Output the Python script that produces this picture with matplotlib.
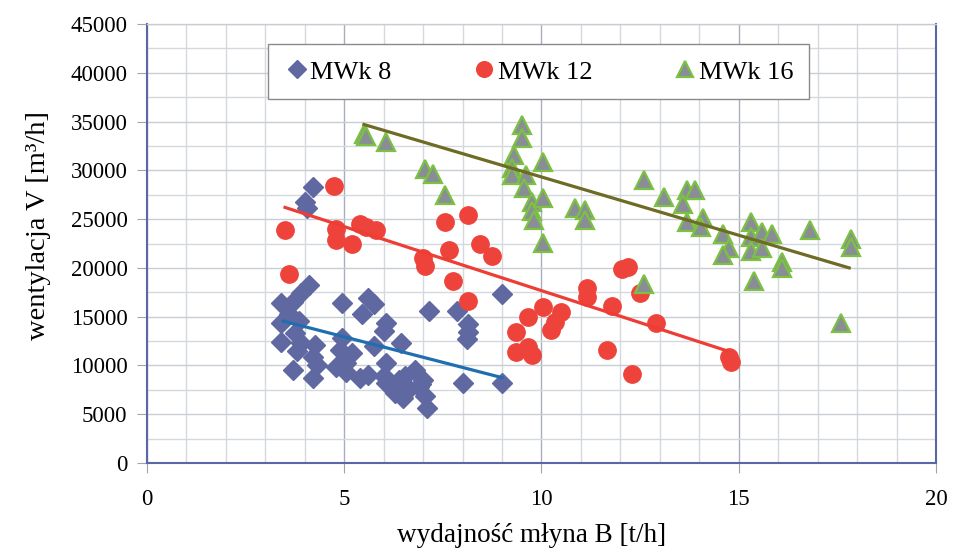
import numpy as np
import matplotlib
matplotlib.use("Agg")
import matplotlib.pyplot as plt
from matplotlib.ticker import MultipleLocator

plt.rcParams['font.family'] = ['Liberation Serif', 'DejaVu Serif']

# MWk 8 measurements: mill output [t/h], ventilation [m3/h]
mwk8_x = [4.2, 4.0, 4.05, 4.1, 3.9, 3.4, 3.7, 3.4, 3.85, 3.75, 3.4, 3.9, 4.25, 4.2, 3.7,
          4.2, 4.3, 3.6, 3.8, 4.95, 5.6, 5.75, 5.45, 6.05, 6.0, 4.95, 4.9, 5.05, 5.05, 5.4,
          5.75, 5.6, 6.45, 6.05, 6.05, 6.0, 6.4, 6.55, 6.65, 6.5, 6.3, 6.8, 7.0, 6.95, 7.05,
          7.1, 6.9, 6.2, 7.15, 7.85, 8.15, 8.15, 8.1, 9.0, 9.0, 8.0, 5.2, 4.8]
mwk8_y = [28300, 26800, 26100, 18200, 17400, 16400, 16500, 14300, 14600, 13300, 12400, 12300, 12100, 10900, 9500,
          8700, 10000, 15300, 11500, 16400, 16900, 16300, 15300, 14300, 13500, 12800, 11600, 10200, 9300, 8700,
          12000, 9000, 12300, 10200, 8200, 8900, 8500, 8900, 7600, 6700, 7200, 9500, 8500, 8100, 6900,
          5600, 7800, 8000, 15600, 15600, 14200, 13400, 12700, 17300, 8200, 8200, 11300, 9800]

# MWk 12 measurements
mwk12_x = [3.5, 3.6, 4.75, 4.8, 4.8, 5.2, 5.4, 5.55, 5.8, 7.0, 7.05, 7.55, 7.65, 7.75, 8.15,
           8.45, 8.75, 8.15, 9.35, 9.35, 9.65, 9.75, 9.65, 10.05, 10.25, 10.35, 10.5, 11.15, 11.15,
           11.65, 11.8, 12.05, 12.2, 12.5, 12.3, 12.9, 14.75, 14.8]
mwk12_y = [23900, 19400, 28400, 24000, 22900, 22400, 24500, 24200, 23900, 21000, 20200, 24700, 21800, 18700, 25400,
           22500, 21200, 16600, 13400, 11400, 11900, 11100, 15000, 16000, 13600, 14500, 15500, 17900, 17000,
           11600, 16100, 19900, 20100, 17400, 9100, 14300, 10900, 10400]

# MWk 16 measurements
mwk16_x = [5.5, 5.55, 6.05, 7.05, 7.25, 7.55, 9.5, 9.5, 9.3, 9.25, 9.25, 9.6, 9.55, 10.05, 9.75,
           9.75, 9.8, 10.05, 10.05, 10.85, 11.1, 11.1, 12.6, 12.6, 13.1, 13.7, 13.9, 13.6, 13.7, 14.1,
           14.05, 14.6, 14.75, 14.6, 15.3, 15.3, 15.3, 15.6, 15.6, 15.85, 16.1, 16.1, 15.4, 16.8, 17.85,
           17.85, 17.6]
mwk16_y = [33700, 33500, 32900, 30100, 29600, 27500, 34600, 33300, 31600, 30200, 29500, 29500, 28200, 30900, 26800,
           25800, 24900, 27200, 22600, 26100, 25900, 24900, 29000, 18300, 27300, 28000, 28000, 26600, 24700, 25100,
           24200, 23500, 22000, 21300, 24700, 23200, 21700, 23700, 22000, 23500, 20600, 20000, 18700, 23900, 23000,
           22100, 14300]

# linear trends (endpoints)
trend8_x, trend8_y = [3.45, 9.0], [14550, 8750]
trend12_x, trend12_y = [3.5, 14.7], [26200, 11500]
trend16_x, trend16_y = [5.5, 17.8], [34700, 20000]

fig = plt.figure(figsize=(9.58, 5.56), dpi=100)
ax = fig.add_axes([0.1534, 0.1673, 0.8236, 0.7895])

ax.plot(mwk8_x, mwk8_y, ls='none', marker='D', ms=10, color='#5f68a0', mec='#5f68a0', label='MWk 8', zorder=3)
ax.plot(mwk12_x, mwk12_y, ls='none', marker='o', ms=12.5, color='#ee433b', mec='#ee433b', label='MWk 12', zorder=3)
ax.plot(mwk16_x, mwk16_y, ls='none', marker='^', ms=13.5, color='#898e96', mec='#7cc142', mew=1.6,
        label='MWk 16', zorder=3)

ax.plot(trend8_x, trend8_y, color='#1f6eb0', lw=2.3, zorder=4)
ax.plot(trend12_x, trend12_y, color='#ee3d35', lw=2.3, zorder=4)
ax.plot(trend16_x, trend16_y, color='#6e6b24', lw=2.3, zorder=4)

ax.set_xlim(0, 20)
ax.set_ylim(0, 45000)
ax.xaxis.set_major_locator(MultipleLocator(5))
ax.xaxis.set_minor_locator(MultipleLocator(1))
ax.yaxis.set_major_locator(MultipleLocator(5000))
ax.yaxis.set_minor_locator(MultipleLocator(2500))

ax.grid(which='minor', color='#d5d8dc', lw=1.0, zorder=0)
ax.grid(which='major', axis='y', color='#c9ccd2', lw=1.0, zorder=0)
ax.grid(which='major', axis='x', color='#a9aebb', lw=1.0, zorder=0)
ax.set_axisbelow(True)

for s in ['left', 'bottom', 'right', 'top']:
    ax.spines[s].set_color('#5a67a6')
    ax.spines[s].set_linewidth(1.5)
ax.spines['top'].set_color('#c9ccd2')
ax.spines['top'].set_linewidth(1.0)

ax.tick_params(which='major', length=7, color='#a0a4ad', labelsize=16.5)
ax.tick_params(which='minor', length=0)
ax.tick_params(axis='x', pad=12)
ax.tick_params(axis='y', pad=7)

ax.set_xlabel('wydajność młyna B [t/h]', fontsize=19.5, labelpad=9)
ax.xaxis.label.set_x(0.488)
ax.set_ylabel('wentylacja V [m³/h]', fontsize=20.5, labelpad=14)
ax.yaxis.label.set_y(0.542)

leg = ax.legend(loc='upper left', bbox_to_anchor=(0.153, 0.954, 0.686, 0), mode='expand', ncol=3,
                fontsize=19, frameon=True, fancybox=False, borderpad=0.6, borderaxespad=0,
                handletextpad=0.0, handlelength=1.0, columnspacing=1.0, markerscale=0.9)
leg.get_frame().set_edgecolor('#8a8a8a')
leg.get_frame().set_linewidth(1.0)
leg.get_frame().set_alpha(1)

fig.savefig('out.png', dpi=100)
